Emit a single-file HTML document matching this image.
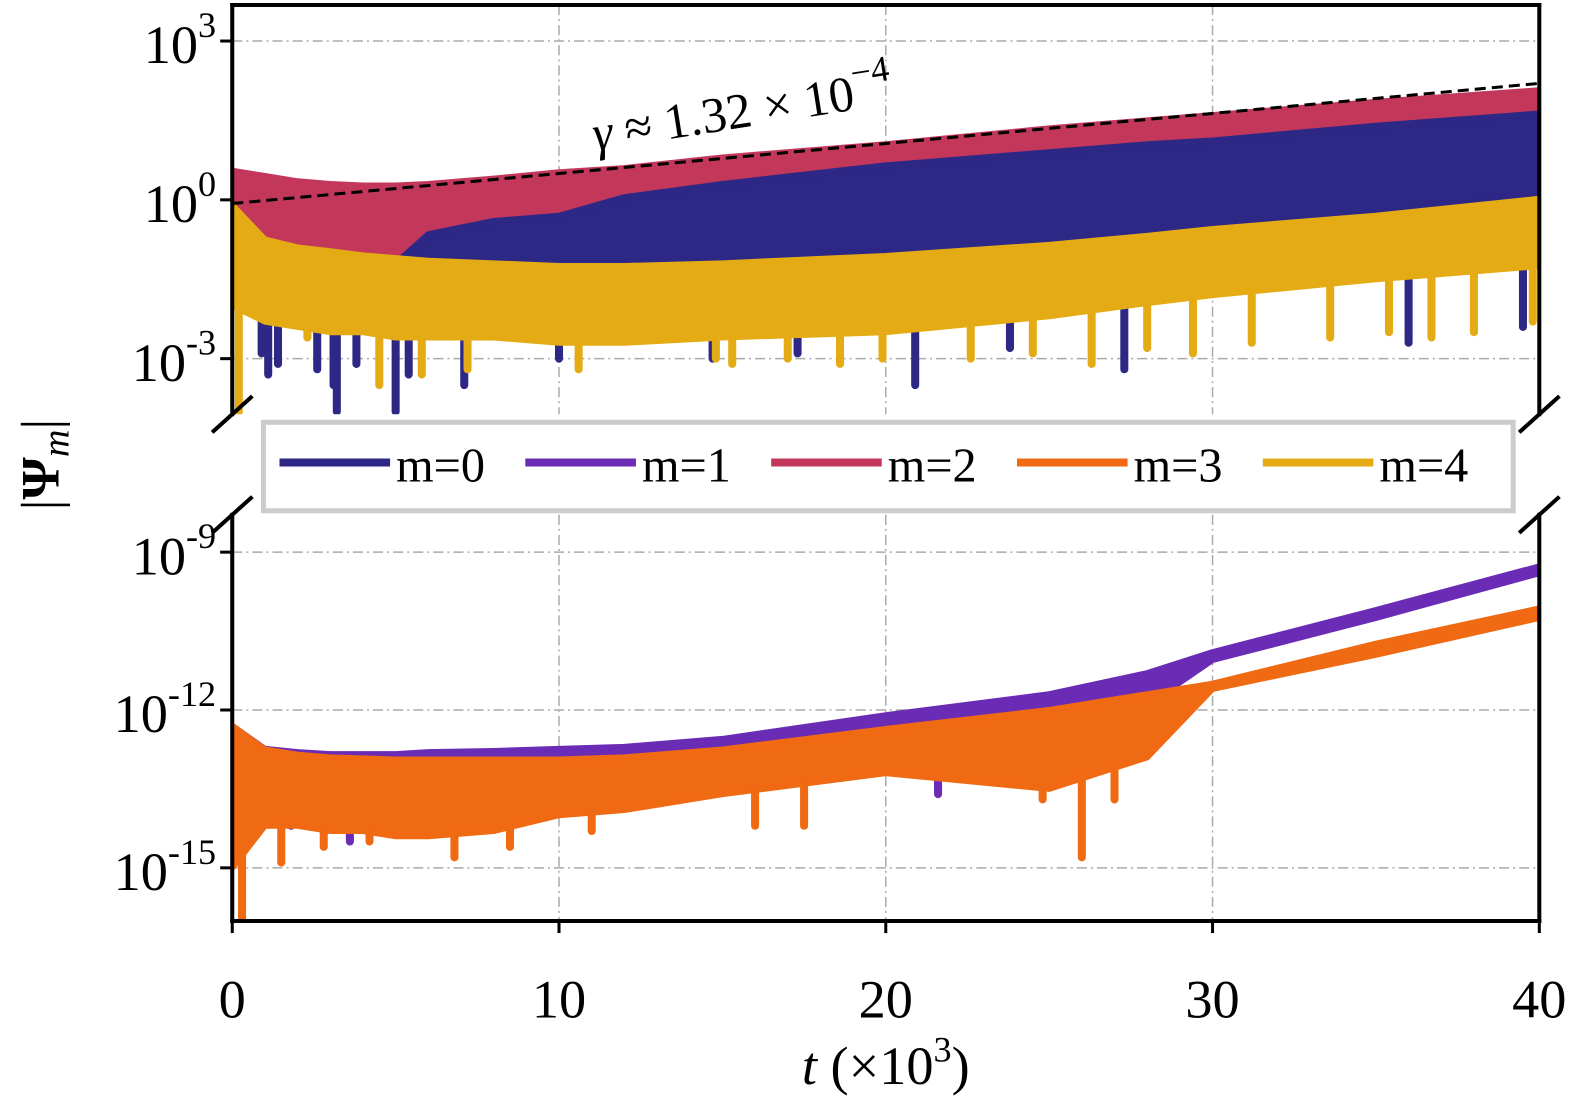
<!DOCTYPE html>
<html><head><meta charset="utf-8">
<style>
html,body{margin:0;padding:0;background:#fff;overflow:hidden;width:1575px;height:1107px;}
svg{display:block;font-family:"Liberation Serif",serif;}
</style></head>
<body>
<svg id="chart" width="1575" height="1107" viewBox="0 0 1566.5 1101" preserveAspectRatio="none" xmlns="http://www.w3.org/2000/svg">
</svg>
<script>
// ---- data (log10 |Psi_m|) ----
const tSamples = [0,1,2,3,4,5,6,8,10,12,15,20,25,28,30,35,40];
const m2Upper = [0.55,0.45,0.35,0.3,0.27,0.27,0.3,0.4,0.52,0.6,0.8,1.05,1.35,1.5,1.6,1.85,2.07];
const m2Lower = [-0.9,-1.1,-1.1,-1.1,-1.15,-1.15,-1.1,-1.1,-1.1,-1.0,-0.9,-0.7,-0.4,-0.3,-0.2,0.0,0.1];
const m0Upper = [-1.2,-1.2,-1.2,-1.2,-1.2,-1.2,-0.65,-0.4,-0.3,0.05,0.3,0.65,0.9,1.05,1.12,1.4,1.63];
const m0Lower = [-1.3,-1.3,-1.3,-1.3,-1.3,-1.3,-1.3,-1.3,-1.3,-1.3,-1.25,-1.06,-0.85,-0.7,-0.6,-0.3,0.08];
const m4Upper = [-0.1,-0.75,-0.9,-0.97,-1.05,-1.1,-1.15,-1.2,-1.25,-1.25,-1.2,-1.06,-0.85,-0.68,-0.55,-0.3,0.02];
const m4Lower = [-2.0,-2.3,-2.4,-2.5,-2.5,-2.6,-2.6,-2.6,-2.7,-2.7,-2.6,-2.5,-2.2,-1.95,-1.8,-1.5,-1.25];
const m1Upper = [-12.3,-12.74,-12.8,-12.84,-12.84,-12.84,-12.8,-12.78,-12.74,-12.7,-12.55,-12.1,-11.7,-11.3,-10.9,-10.1,-9.27];
const m1Lower = [-13.8,-13.3,-13.15,-13.15,-13.15,-13.15,-13.1,-13.05,-13.0,-12.95,-12.8,-12.5,-12.2,-11.9,-11.05,-10.25,-9.4];
const m3Upper = [-12.3,-12.75,-12.85,-12.9,-12.92,-12.94,-12.94,-12.94,-12.94,-12.9,-12.75,-12.36,-12.0,-11.7,-11.5,-10.74,-10.07];
const m3Lower = [-15.0,-14.2,-14.2,-14.3,-14.3,-14.4,-14.4,-14.3,-14.0,-13.9,-13.6,-13.2,-13.5,-12.9,-11.6,-10.95,-10.25];
const m0Spikes = [[0.9,-2.9],[1.1,-3.3],[1.4,-3.1],[2.6,-3.2],[3.1,-3.5],[3.2,-4],[3.8,-3.1],[5.0,-4],[5.4,-3.3],[7.1,-3.5],[10.0,-3.0],[14.7,-3.0],[17.3,-2.9],[20.9,-3.5],[23.8,-2.8],[27.3,-3.2],[36.0,-2.7],[39.5,-2.4]];
const m4Spikes = [[0.2,-4],[2.3,-2.6],[4.5,-3.5],[5.8,-3.3],[7.2,-3.2],[10.6,-3.2],[14.8,-3.0],[15.3,-3.1],[17.0,-3.0],[18.6,-3.1],[19.9,-3.0],[22.6,-3.0],[24.5,-2.9],[26.3,-3.1],[28.0,-2.8],[29.4,-2.9],[31.2,-2.7],[33.6,-2.6],[35.4,-2.5],[36.7,-2.6],[38.0,-2.5],[39.8,-2.3]];
const m1Spikes = [[1.8,-14.1],[3.6,-14.5],[21.6,-13.6]];
const m3Spikes = [[0.3,-16],[1.5,-14.9],[2.8,-14.6],[4.2,-14.5],[6.8,-14.8],[8.5,-14.6],[11.0,-14.3],[16.0,-14.2],[17.5,-14.2],[24.8,-13.7],[26.0,-14.8],[27.0,-13.7]];
const dashT = [0,40];
const dashV = [-0.07,2.2];
const xTicks = [0,10,20,30,40];
const topTicks = [3,0,-3];
const botTicks = [-9,-12,-15];
const legendLabels = ["m=0","m=1","m=2","m=3","m=4"];
const colors = ["#2d2785","#6a2bb5","#c3385a","#f06913","#e5ab14"];

// ---- axes ----
const X0=231,X1=1531;
const topA={y0:5,y1:412,v0:3.68,v1:-4.05};
const botA={y0:512,y1:916,v0:-8.29,v1:-16.01};
const xs=t=>X0+(t/40)*(X1-X0);
const ys=(a,v)=>a.y0+(a.v0-v)/(a.v0-a.v1)*(a.y1-a.y0);
const svg=document.getElementById('chart');
const NS='http://www.w3.org/2000/svg';
function mk(tag,attrs,parent){const e=document.createElementNS(NS,tag);for(const k in attrs)e.setAttribute(k,attrs[k]);(parent||svg).appendChild(e);return e;}

function clip(id,a){const c=mk('clipPath',{id:id});mk('rect',{x:X0,y:a.y0,width:X1-X0,height:a.y1-a.y0},c);}
clip('ct',topA);clip('cb',botA);

function grid(a,ticks){
  xTicks.slice(1,4).forEach(t=>{const g=mk('line',{x1:xs(t),x2:xs(t),y1:a.y0,y2:a.y1,stroke:'#aaa','stroke-width':1.5,'stroke-dasharray':'10 4 2 4'});
  
  });
  ticks.forEach(v=>{const g=mk('line',{x1:X0,x2:X1,y1:ys(a,v),y2:ys(a,v),stroke:'#aaa','stroke-width':1.5,'stroke-dasharray':'10 4 2 4'});
  
  });
}
grid(topA,topTicks);grid(botA,botTicks);

function band(a,up,lo,col,name,cl){
  let pts=tSamples.map((t,i)=>xs(t)+','+ys(a,up[i]));
  for(let i=tSamples.length-1;i>=0;i--)pts.push(xs(tSamples[i])+','+ys(a,lo[i]));
  const p=mk('polygon',{points:pts.join(' '),fill:col,stroke:col,'stroke-width':6,'stroke-linejoin':'round','clip-path':'url(#'+cl+')'});
  
  
}
function spikes(a,sp,up,col,name,cl){
  sp.forEach(s=>{
    let i=0;while(i<tSamples.length-2&&tSamples[i+1]<s[0])i++;
    const f=(s[0]-tSamples[i])/(tSamples[i+1]-tSamples[i]);
    const base=up[i]+(up[i+1]-up[i])*f;
    const l=mk('line',{x1:xs(s[0]),x2:xs(s[0]),y1:ys(a,base),y2:ys(a,s[1]),stroke:col,'stroke-width':8,'stroke-linecap':'round','clip-path':'url(#'+cl+')'});
    
    
  });
}
band(topA,m2Upper,m2Lower,colors[2],'series-m2','ct');
band(topA,m0Upper,m0Lower,colors[0],'series-m0','ct');
spikes(topA,m0Spikes,m4Lower,colors[0],'spike-m0','ct');
band(topA,m4Upper,m4Lower,colors[4],'series-m4','ct');
spikes(topA,m4Spikes,m4Lower,colors[4],'spike-m4','ct');
band(botA,m1Upper,m1Lower,colors[1],'series-m1','cb');
spikes(botA,m1Spikes,m3Lower,colors[1],'spike-m1','cb');
band(botA,m3Upper,m3Lower,colors[3],'series-m3','cb');
spikes(botA,m3Spikes,m3Lower,colors[3],'spike-m3','cb');

const dl=mk('line',{x1:xs(dashT[0]),y1:ys(topA,dashV[0]),x2:xs(dashT[1]),y2:ys(topA,dashV[1]),stroke:'#000','stroke-width':3,'stroke-dasharray':'11 6','clip-path':'url(#ct)'});



function sp(x1,y1,x2,y2,name){const l=mk('line',{x1,y1,x2,y2,stroke:'#000','stroke-width':4,'stroke-linecap':'square'});

}
sp(X0,topA.y0,X1,topA.y0,'top-spine');sp(X0,topA.y0,X0,topA.y1,'left-spine-top');sp(X1,topA.y0,X1,topA.y1,'right-spine-top');
sp(X0,botA.y0,X0,botA.y1,'left-spine-bottom');sp(X1,botA.y0,X1,botA.y1,'right-spine-bottom');sp(X0,botA.y1,X1,botA.y1,'bottom-spine');
[[X0,topA.y1],[X1,topA.y1],[X0,botA.y0],[X1,botA.y0]].forEach(p=>{
  const l=mk('line',{x1:p[0]-20,y1:p[1]+18,x2:p[0]+20,y2:p[1]-18,stroke:'#000','stroke-width':4});
  
  });

function ytick(a,v,name){
  const y=ys(a,v);
  mk('line',{x1:X0-12,x2:X0,y1:y,y2:y,stroke:'#000','stroke-width':3});
  const t=mk('text',{x:X0-16,y:y+22,'text-anchor':'end','font-size':54});
  t.innerHTML='10<tspan dy="-26" font-size="36">'+v+'</tspan>';
  
  
}
topTicks.forEach(v=>ytick(topA,v,'y-tick-label'));
botTicks.forEach(v=>ytick(botA,v,'y-tick-label'));
xTicks.forEach(v=>{
  mk('line',{x1:xs(v),x2:xs(v),y1:botA.y1,y2:botA.y1+12,stroke:'#000','stroke-width':3});
  const t=mk('text',{x:xs(v),y:1012,'text-anchor':'middle','font-size':54});
  t.textContent=v;
  
  
});

const xl=mk('text',{x:881,y:1078,'text-anchor':'middle','font-size':54});
xl.innerHTML='<tspan font-style="italic">t</tspan> (×10<tspan dy="-22" font-size="36">3</tspan><tspan dy="22">)</tspan>';


const yl=mk('text',{x:0,y:0,'text-anchor':'middle','font-size':54,transform:'translate(58,462) rotate(-90)'});
yl.innerHTML='|<tspan font-weight="bold">Ψ</tspan><tspan font-style="italic" font-size="38" dy="10">m</tspan><tspan dy="-10">|</tspan>';


const an=mk('text',{x:0,y:0,'font-size':50,transform:'translate(592,150) rotate(-9)'});
an.innerHTML='<tspan font-style="italic">γ</tspan> ≈ 1.32 × 10<tspan dy="-24" font-size="36">−4</tspan>';



const lg=mk('g',{});


mk('rect',{x:262,y:420,width:1243,height:88,fill:'#fff',stroke:'#ccc','stroke-width':5},lg);
legendLabels.forEach((lab,i)=>{
  const g=mk('g',{},lg);
  
  
  const x=278+i*244.5;
  mk('line',{x1:x,x2:x+110,y1:460,y2:460,stroke:colors[i],'stroke-width':8},g);
  const t=mk('text',{x:x+116,y:479,'font-size':48},g);
  t.textContent=lab;
});
</script>
</body></html>
